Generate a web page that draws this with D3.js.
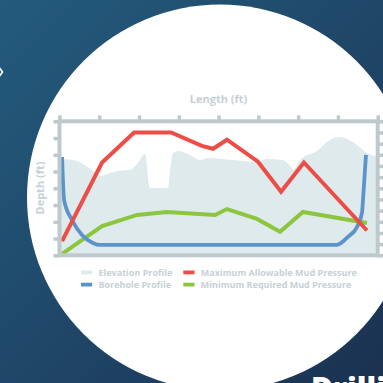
<!doctype html>
<html>

<head>
  <meta charset="utf-8">
  <title>mud pressure chart</title>
  <style>
    html,
    body {
      margin: 0;
      padding: 0;
      overflow: hidden;
    }

    svg {
      display: block;
    }

    .lbl {
      font-family: "Open Sans", sans-serif;
      font-weight: 700;
      fill: #c6d1d4;
    }
  </style>
</head>

<body>
  <div id="chart"></div>
  <script src="https://d3js.org/d3.v7.min.js"></script>
  <script>
    // length in ft along the crossing
    const xTicks = [0, 200, 400, 600, 800, 1000, 1200, 1400, 1600];
    const depthTicks = [0, 10, 20, 30, 40, 50, 60, 70, 80];
    const pressureTicks = [0, 10, 20, 30, 40, 50, 60, 70, 80, 90, 100, 110, 120];

    const elevLen = [0, 68, 118, 168, 204, 254, 289, 354, 390, 430, 455, 546, 556, 571, 596, 646, 706, 747, 872, 993, 1043, 1124, 1159, 1174, 1209, 1294, 1360, 1410, 1475, 1546, 1600];
    const elevVal = [57.5, 56.9, 54.5, 50.3, 47.3, 49.1, 50.3, 50.9, 54.5, 60.5, 40.2, 40.2, 50.9, 61.1, 62.3, 60.5, 56.9, 58.1, 56.9, 55.7, 57.5, 56.9, 53.3, 50.9, 56.9, 62.3, 68.8, 70.6, 67.6, 61.1, 58.7];

    const boreLen = [13, 23, 63, 113, 168, 204, 1395, 1450, 1496, 1521, 1526, 1541];
    const boreVal = [58.7, 33, 21.1, 12.1, 7.4, 6.2, 6.2, 11, 16.9, 25.3, 33, 59.9];

    const maxLen = [13, 214, 375, 561, 716, 772, 842, 998, 1114, 1229, 1546];
    const maxVal = [8.5, 55.4, 73.3, 73.3, 65.3, 63.6, 69, 55.9, 38, 55.4, 14.8];

    const minLen = [13, 214, 390, 540, 782, 842, 993, 1109, 1224, 1546];
    const minVal = [0.8, 17.5, 24.1, 25.9, 24.1, 27.6, 21.7, 14, 25.9, 19.3];

    const legendNames = ['Elevation Profile', 'Borehole Profile', 'Maximum Allowable Mud Pressure', 'Minimum Required Mud Pressure'];
    const legendColors = ['#dfeaec', '#5b93cb', '#ec4d47', '#8cc63f'];

    const W = 383, H = 383;
    const svg = d3.select('#chart').append('svg').attr('width', W).attr('height', H);

    // background gradient
    const defs = svg.append('defs');
    const grad = defs.append('linearGradient').attr('id', 'bg')
      .attr('x1', 0).attr('y1', 0).attr('x2', 1).attr('y2', 1);
    grad.append('stop').attr('offset', '0%').attr('stop-color', '#235b7d');
    grad.append('stop').attr('offset', '55%').attr('stop-color', '#1f4566');
    grad.append('stop').attr('offset', '100%').attr('stop-color', '#1b3150');
    svg.append('rect').attr('width', W).attr('height', H).attr('fill', 'url(#bg)');

    // chevron tip at the left edge
    svg.append('path').attr('d', 'M-9,56 L2.5,72 L-9,88').attr('fill', 'none')
      .attr('stroke', '#fff').attr('stroke-width', 1.6);

    // white circle
    svg.append('circle').attr('cx', 220).attr('cy', 197.5).attr('r', 193).attr('fill', '#fff');

    // big heading, mostly cut off
    svg.append('text').attr('x', 311).attr('y', 399)
      .style('font-family', '"Open Sans", sans-serif').style('font-weight', 800)
      .style('font-size', '30px').attr('fill', '#fff').text('Drilling');

    const L = 59.5, R = 377.7, T = 121.3, B = 255.3;
    const x = d3.scaleLinear().domain([0, 1600]).range([L, R]);
    const y = d3.scaleLinear().domain([0, 80]).range([B, T]);
    const yR = d3.scaleLinear().domain([0, 120]).range([B, T]);

    const frameColor = '#bdc9cc';

    // elevation profile
    const elev = elevLen.map((d, i) => [d, elevVal[i]]);
    svg.append('path').datum(elev)
      .attr('fill', legendColors[0])
      .attr('d', d3.area().x(d => x(d[0])).y0(B).y1(d => y(d[1])).curve(d3.curveMonotoneX));

    const line = d3.line().x(d => x(d[0])).y(d => y(d[1]));

    // pressures
    svg.append('path').datum(minLen.map((d, i) => [d, minVal[i]]))
      .attr('fill', 'none').attr('stroke', legendColors[3]).attr('stroke-width', 4)
      .attr('stroke-linejoin', 'miter').attr('d', line);
    svg.append('path').datum(boreLen.map((d, i) => [d, boreVal[i]]))
      .attr('fill', 'none').attr('stroke', legendColors[1]).attr('stroke-width', 3.8)
      .attr('d', line.curve(d3.curveMonotoneX));
    line.curve(d3.curveLinear);
    svg.append('path').datum(maxLen.map((d, i) => [d, maxVal[i]]))
      .attr('fill', 'none').attr('stroke', legendColors[2]).attr('stroke-width', 4)
      .attr('stroke-linejoin', 'miter').attr('d', line);

    // frame + ticks
    const styleAxis = g => {
      g.select('.domain').remove();
      g.selectAll('text').remove();
      g.selectAll('line').attr('stroke', frameColor).attr('stroke-width', 3.5);
    };
    svg.append('g').attr('transform', `translate(0,${T})`)
      .call(d3.axisTop(x).tickValues(xTicks).tickSize(6)).call(styleAxis);
    svg.append('g').attr('transform', `translate(${L},0)`)
      .call(d3.axisLeft(y).tickValues(depthTicks).tickSize(6)).call(styleAxis);
    svg.append('g').attr('transform', `translate(${R},0)`)
      .call(d3.axisRight(yR).tickValues(pressureTicks).tickSize(8)).call(styleAxis);
    svg.append('rect').attr('x', L).attr('y', T).attr('width', R - L).attr('height', B - T)
      .attr('fill', 'none').attr('stroke', frameColor).attr('stroke-width', 4);

    // axis titles
    svg.append('text').attr('class', 'lbl').attr('x', (L + R) / 2).attr('y', 102.5)
      .attr('text-anchor', 'middle').style('font-size', '11px').text('Length (ft)');
    svg.append('text').attr('class', 'lbl').attr('transform', 'translate(43.5,188) rotate(-90)')
      .attr('text-anchor', 'middle').style('font-size', '11px').text('Depth (ft)');

    // legend
    const legPos = [[81, 270.5], [81, 282.7], [183.3, 270.5], [183.3, 282.7]];
    const leg = svg.append('g').selectAll('g').data(legendNames).join('g')
      .attr('transform', (d, i) => `translate(${legPos[i][0]},${legPos[i][1]})`);
    leg.append('rect').attr('width', 11.2).attr('height', 3.8).attr('fill', (d, i) => legendColors[i]);
    leg.append('text').attr('class', 'lbl').attr('x', 17.5).attr('y', 5.6)
      .style('font-size', '9px').text(d => d);
  </script>
</body>

</html>
